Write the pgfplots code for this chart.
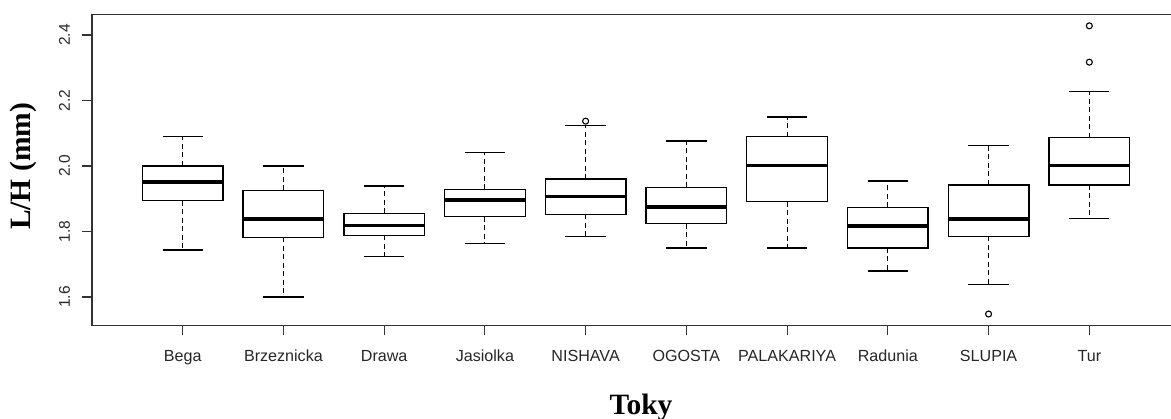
\documentclass[border=0pt]{standalone}
\usepackage{pgfplots}
\pgfplotsset{compat=1.18}
\usepgfplotslibrary{statistics}
\usepackage{fontspec}
\setmainfont{Liberation Serif}
\newfontfamily\arial{Liberation Sans}
\begin{document}
\begin{tikzpicture}
\begin{axis}[
  scale only axis, width=1088pt, height=311pt,
  xmin=0.1, xmax=10.9, ymin=1.5136, ymax=2.4632,
  axis line style={line width=1.1pt, black!80},
  tick align=outside, major tick length=10pt,
  xtick pos=bottom, ytick pos=left,
  tick style={line width=1.1pt, black!80},
  xtick={1,2,3,4,5,6,7,8,9,10},
  xticklabels={Bega,Brzeznicka,Drawa,Jasiolka,NISHAVA,OGOSTA,PALAKARIYA,Radunia,SLUPIA,Tur},
  ytick={1.6,1.8,2.0,2.2,2.4},
  yticklabels={1.6,1.8,2.0,2.2,2.4},
  xticklabel style={font=\arial\fontsize{16.1}{18}\selectfont, text=black!85, anchor=base, yshift=-26pt},
  yticklabel style={font=\arial\fontsize{15.5}{17}\selectfont, text=black!85, xshift=-12pt, rotate=90, anchor=base},
  every axis x label/.style={at={(axis description cs:0.5046,-0.2862)}, anchor=base},
  every axis y label/.style={at={(axis description cs:-0.0561,0.5106)}, rotate=90, anchor=base},
  xlabel={\fontsize{29.5}{32}\selectfont\bfseries Toky},
  ylabel={\fontsize{29.5}{32}\selectfont\bfseries L/H (mm)},
  boxplot/draw direction=y,
  boxplot/box extend=0.8,
  boxplot/whisker extend=0.4,
  boxplot/every median/.style={line width=3.6pt},
  boxplot/draw/lower whisker/.code={
    \draw[/pgfplots/boxplot/every whisker, line width=1.2pt, dash pattern=on 5pt off 3.5pt]
      (boxplot box cs:\pgfplotsboxplotvalue{lower quartile},0.5) --
      (boxplot box cs:\pgfplotsboxplotvalue{lower whisker},0.5);
    \draw[/pgfplots/boxplot/every whisker]
      (boxplot whisker cs:\pgfplotsboxplotvalue{lower whisker},0) --
      (boxplot whisker cs:\pgfplotsboxplotvalue{lower whisker},1);
  },
  boxplot/draw/upper whisker/.code={
    \draw[/pgfplots/boxplot/every whisker, line width=1.2pt, dash pattern=on 5pt off 3.5pt]
      (boxplot box cs:\pgfplotsboxplotvalue{upper quartile},0.5) --
      (boxplot box cs:\pgfplotsboxplotvalue{upper whisker},0.5);
    \draw[/pgfplots/boxplot/every whisker]
      (boxplot whisker cs:\pgfplotsboxplotvalue{upper whisker},0) --
      (boxplot whisker cs:\pgfplotsboxplotvalue{upper whisker},1);
  },
  every axis plot/.append style={black, line width=1.3pt, mark=o, mark size=3pt, mark options={solid, line width=1.1pt}},
]
% Bega
\addplot[boxplot prepared={draw position=1, lower whisker=1.7435, lower quartile=1.894, median=1.952, upper quartile=2.0, upper whisker=2.0895}] coordinates {};
% Brzeznicka
\addplot[boxplot prepared={draw position=2, lower whisker=1.600, lower quartile=1.782, median=1.839, upper quartile=1.926, upper whisker=2.000}] coordinates {};
% Drawa
\addplot[boxplot prepared={draw position=3, lower whisker=1.724, lower quartile=1.788, median=1.818, upper quartile=1.856, upper whisker=1.939}] coordinates {};
% Jasiolka
\addplot[boxplot prepared={draw position=4, lower whisker=1.763, lower quartile=1.845, median=1.897, upper quartile=1.929, upper whisker=2.041}] coordinates {};
% NISHAVA
\addplot[boxplot prepared={draw position=5, lower whisker=1.785, lower quartile=1.852, median=1.907, upper quartile=1.960, upper whisker=2.124}] table[row sep=\\, y index=0] {2.137\\};
% OGOSTA
\addplot[boxplot prepared={draw position=6, lower whisker=1.750, lower quartile=1.824, median=1.875, upper quartile=1.935, upper whisker=2.076}] coordinates {};
% PALAKARIYA
\addplot[boxplot prepared={draw position=7, lower whisker=1.750, lower quartile=1.891, median=2.001, upper quartile=2.0895, upper whisker=2.150}] coordinates {};
% Radunia
\addplot[boxplot prepared={draw position=8, lower whisker=1.679, lower quartile=1.750, median=1.817, upper quartile=1.874, upper whisker=1.954}] coordinates {};
% SLUPIA
\addplot[boxplot prepared={draw position=9, lower whisker=1.638, lower quartile=1.785, median=1.839, upper quartile=1.942, upper whisker=2.063}] table[row sep=\\, y index=0] {1.548\\};
% Tur
\addplot[boxplot prepared={draw position=10, lower whisker=1.839, lower quartile=1.942, median=2.001, upper quartile=2.086, upper whisker=2.227}] table[row sep=\\, y index=0] {2.317\\ 2.428\\};
\end{axis}
\pgfresetboundingbox
\path[use as bounding box] (-92pt,-93.7pt) rectangle (1079pt,325.3pt);
\end{tikzpicture}
\end{document}
